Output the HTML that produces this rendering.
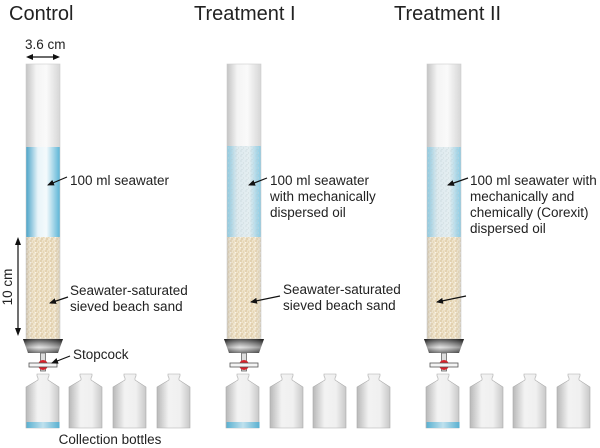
<!DOCTYPE html>
<html><head><meta charset="utf-8"><style>
html,body{margin:0;padding:0;background:#fff;}
svg{display:block;font-family:"Liberation Sans",Arial,sans-serif;}
</style></head><body>
<svg width="600" height="448" viewBox="0 0 600 448" xmlns="http://www.w3.org/2000/svg">
<defs>
<linearGradient id="glass" x1="0" x2="1" y1="0" y2="0">
<stop offset="0" stop-color="#c4c4c4"/><stop offset="0.3" stop-color="#f4f4f4"/><stop offset="0.6" stop-color="#fafafa"/><stop offset="1" stop-color="#d6d6d6"/></linearGradient>
<linearGradient id="water" x1="0" x2="1" y1="0" y2="0">
<stop offset="0" stop-color="#4aa3c8"/><stop offset="0.35" stop-color="#e8f4f9"/><stop offset="0.6" stop-color="#f4fafc"/><stop offset="1" stop-color="#5ab4d6"/></linearGradient>
<linearGradient id="water2" x1="0" x2="1" y1="0" y2="0">
<stop offset="0" stop-color="#8cc8df"/><stop offset="0.3" stop-color="#dce9ee"/><stop offset="0.65" stop-color="#e4eef1"/><stop offset="1" stop-color="#8ccbe3"/></linearGradient>
<pattern id="speck" width="5" height="5" patternUnits="userSpaceOnUse">
<circle cx="1" cy="1" r="0.5" fill="#b8c8cc"/><circle cx="3.5" cy="3" r="0.5" fill="#c8d4d6"/><circle cx="2" cy="4.5" r="0.4" fill="#aebfc4"/></pattern>
<pattern id="sand" width="5" height="5" patternUnits="userSpaceOnUse">
<rect width="5" height="5" fill="#eee2c8"/><circle cx="1" cy="1" r="0.6" fill="#cdae7c"/><circle cx="3.5" cy="2" r="0.5" fill="#dcc292"/><circle cx="2" cy="4" r="0.6" fill="#c4a576"/><circle cx="4.3" cy="4.3" r="0.5" fill="#fbf6ea"/><circle cx="0.5" cy="2.8" r="0.5" fill="#fff"/></pattern>
<linearGradient id="sandedge" x1="0" x2="1" y1="0" y2="0">
<stop offset="0" stop-color="#999" stop-opacity="0.35"/><stop offset="0.25" stop-color="#fff" stop-opacity="0"/><stop offset="0.8" stop-color="#fff" stop-opacity="0"/><stop offset="1" stop-color="#999" stop-opacity="0.3"/></linearGradient>
<linearGradient id="base" x1="0" x2="0" y1="0" y2="1">
<stop offset="0" stop-color="#222"/><stop offset="0.3" stop-color="#888"/><stop offset="0.6" stop-color="#ddd"/><stop offset="1" stop-color="#555"/></linearGradient>
<linearGradient id="baseh" x1="0" x2="1" y1="0" y2="0">
<stop offset="0" stop-color="#000" stop-opacity="0.4"/><stop offset="0.4" stop-color="#fff" stop-opacity="0.2"/><stop offset="1" stop-color="#000" stop-opacity="0.4"/></linearGradient>
<linearGradient id="bottle" x1="0" x2="1" y1="0" y2="0">
<stop offset="0" stop-color="#b8b8b8"/><stop offset="0.35" stop-color="#f2f2f2"/><stop offset="0.7" stop-color="#f0f0f0"/><stop offset="1" stop-color="#c8c8c8"/></linearGradient>
<linearGradient id="bwater" x1="0" x2="1" y1="0" y2="0">
<stop offset="0" stop-color="#5ab0d0"/><stop offset="0.5" stop-color="#bfe1ee"/><stop offset="1" stop-color="#5ab0d0"/></linearGradient>
<marker id="ah" markerWidth="8" markerHeight="8" refX="6" refY="3" orient="auto" markerUnits="userSpaceOnUse"><path d="M0,0 L7,3 L0,6 Z" fill="#111"/></marker>
<g id="bot">
<path d="M-6,0 H6 V2 L5,4 L5,6 L16,13 V54 H-17 V13 L-5,6 L-5,4 L-6,2 Z" fill="url(#bottle)" stroke="#aaa" stroke-width="0.6"/>
</g>
<g id="stop">
<rect x="-2.5" y="0" width="5" height="18" fill="#ddd" stroke="#666" stroke-width="0.8"/>
<circle cx="0" cy="12" r="5" fill="#d8222a"/>
<rect x="-14" y="10" width="28" height="4" fill="#f4f4f4" stroke="#555" stroke-width="0.8"/>
</g>
</defs>

<text x="9" y="20" font-size="20" fill="#222">Control</text>
<text x="194" y="20" font-size="20" fill="#222">Treatment I</text>
<text x="394" y="20" font-size="20" fill="#222">Treatment II</text>

<rect x="26" y="64" width="34" height="83" fill="url(#glass)"/>
<rect x="26" y="147" width="34" height="91" fill="url(#water)"/>
<rect x="26" y="237" width="34" height="102" fill="url(#sand)"/>
<rect x="26" y="237" width="34" height="102" fill="url(#sandedge)"/>
<rect x="26" y="64" width="34" height="275" fill="none" stroke="#ccc" stroke-width="0.6"/>
<path d="M23,339 H63 L58,353 H28 Z" fill="url(#base)"/><path d="M23,339 H63 L58,353 H28 Z" fill="url(#baseh)"/>
<use href="#stop" x="43" y="353"/>

<rect x="227" y="64" width="34" height="82" fill="url(#glass)"/>
<rect x="227" y="146" width="34" height="92" fill="url(#water2)"/>
<rect x="227" y="146" width="34" height="92" fill="url(#speck)"/>
<rect x="227" y="237" width="34" height="102" fill="url(#sand)"/>
<rect x="227" y="237" width="34" height="102" fill="url(#sandedge)"/>
<rect x="227" y="64" width="34" height="275" fill="none" stroke="#ccc" stroke-width="0.6"/>
<path d="M224,339 H264 L259,353 H229 Z" fill="url(#base)"/><path d="M224,339 H264 L259,353 H229 Z" fill="url(#baseh)"/>
<use href="#stop" x="244" y="353"/>

<rect x="427" y="64" width="34" height="83" fill="url(#glass)"/>
<rect x="427" y="147" width="34" height="91" fill="url(#water2)"/>
<rect x="427" y="147" width="34" height="91" fill="url(#speck)"/>
<rect x="427" y="237" width="34" height="102" fill="url(#sand)"/>
<rect x="427" y="237" width="34" height="102" fill="url(#sandedge)"/>
<rect x="427" y="64" width="34" height="275" fill="none" stroke="#ccc" stroke-width="0.6"/>
<path d="M424,339 H464 L459,353 H429 Z" fill="url(#base)"/><path d="M424,339 H464 L459,353 H429 Z" fill="url(#baseh)"/>
<use href="#stop" x="444" y="353"/>

<use href="#bot" x="43" y="374"/><use href="#bot" x="86" y="374"/><use href="#bot" x="130" y="374"/><use href="#bot" x="174" y="374"/>
<use href="#bot" x="243" y="374"/><use href="#bot" x="287" y="374"/><use href="#bot" x="330" y="374"/><use href="#bot" x="374" y="374"/>
<use href="#bot" x="443" y="374"/><use href="#bot" x="487" y="374"/><use href="#bot" x="530" y="374"/><use href="#bot" x="574" y="374"/>
<rect x="26.5" y="422" width="33" height="6" fill="url(#bwater)"/>
<rect x="226.5" y="422" width="33" height="6" fill="url(#bwater)"/>
<rect x="426.5" y="422" width="33" height="6" fill="url(#bwater)"/>

<line x1="32" y1="57" x2="54" y2="57" stroke="#111" stroke-width="1.2"/>
<path d="M26,57 L33,54 L33,60 Z M60,57 L53,54 L53,60 Z" fill="#111"/>
<text x="25" y="49" font-size="13.5" fill="#222">3.6 cm</text>
<line x1="18" y1="243" x2="18" y2="330" stroke="#111" stroke-width="1.2"/>
<path d="M18,237 L15,245 L21,245 Z M18,336 L15,328 L21,328 Z" fill="#111"/>
<text transform="translate(12,287) rotate(-90)" text-anchor="middle" font-size="13.5" fill="#222">10 cm</text>

<g stroke="#111" stroke-width="1.2" fill="none" marker-end="url(#ah)">
<line x1="67" y1="177" x2="48" y2="185"/>
<line x1="68" y1="297" x2="50" y2="303"/>
<line x1="70" y1="356" x2="52" y2="363"/>
<line x1="267" y1="178" x2="249" y2="185"/>
<line x1="280" y1="296" x2="251" y2="302"/>
<line x1="468" y1="178" x2="448" y2="185"/>
<line x1="466" y1="296" x2="437" y2="302"/>
</g>

<g font-size="13.5" fill="#222">
<text x="70" y="185">100 ml seawater</text>
<text x="70" y="295">Seawater-saturated</text>
<text x="70" y="311">sieved beach sand</text>
<text x="73" y="359">Stopcock</text>
<text x="110" y="444" text-anchor="middle">Collection bottles</text>
<text x="270" y="185">100 ml seawater</text>
<text x="270" y="201">with mechanically</text>
<text x="270" y="217">dispersed oil</text>
<text x="283" y="294">Seawater-saturated</text>
<text x="283" y="310">sieved beach sand</text>
<text x="470" y="185">100 ml seawater with</text>
<text x="470" y="201">mechanically and</text>
<text x="470" y="217">chemically (Corexit)</text>
<text x="470" y="233">dispersed oil</text>
</g>
</svg>
</body></html>
